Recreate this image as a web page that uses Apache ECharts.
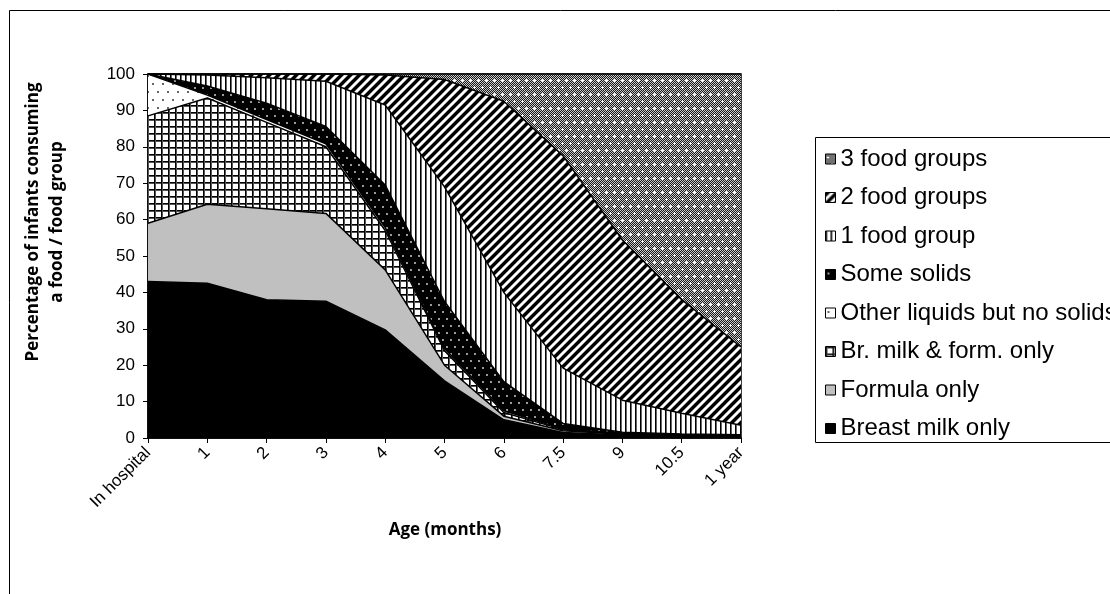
<!DOCTYPE html>
<html>
<head>
<meta charset="utf-8">
<script src="https://cdn.jsdelivr.net/npm/echarts@6/dist/echarts.min.js"></script>
<style>
  html, body { margin: 0; padding: 0; background: #fff; }
  #chart { width: 1110px; height: 594px; }
</style>
</head>
<body>
<div id="chart"></div>
<script>
// ages on the x axis
const ages = ['In hospital', '1', '2', '3', '4', '5', '6', '7.5', '9', '10.5', '1 year']

// % of infants per group (stacked, bottom to top)
const breastMilkOnly = [43, 42.5, 38, 37.6, 29.7, 15.7, 5, 1.5, 0.8, 0.5, 0.3]
const formulaOnly = [16, 21.7, 25, 24.1, 16.5, 4.3, 1, 0.5, 0.2, 0.2, 0.2]
const brMilkFormOnly = [29.5, 29.2, 23.7, 18.3, 10.8, 4, 1, 0.3, 0.2, 0.1, 0.1]
const otherLiquids = [11.5, 0.8, 0.8, 0.8, 0.8, 0.6, 0.5, 0.2, 0.1, 0.1, 0.1]
const someSolids = [0, 2.5, 4.5, 4.8, 11.7, 12.9, 8, 1.5, 0.3, 0.2, 0.2]
const oneFoodGroup = [0, 3, 7, 12.4, 22, 31.5, 24.5, 15.2, 8.8, 5.7, 2.6]
const twoFoodGroups = [0, 0.3, 1, 2, 8.2, 29.5, 52.5, 58.3, 44, 31.2, 21.5]
const threeFoodGroups = [0, 0, 0, 0, 0.3, 1.5, 7.5, 22.5, 45.6, 62, 75]

const yTicks = [0, 100, 10] // min, max, step

//------------------- fill patterns -------------------//
const makePattern = (w, h, draw) => {
  const c = document.createElement('canvas')
  c.width = w
  c.height = h
  const ctx = c.getContext('2d')
  draw(ctx, w, h)
  return {image: c, repeat: 'repeat'}
}

const px = (ctx, x, y, col, w = 1, h = 1) => {
  ctx.fillStyle = col
  ctx.fillRect(x, y, w, h)
}

const gridFill = makePattern(7, 7, (ctx) => {
  px(ctx, 0, 0, '#fff', 7, 7)
  px(ctx, 0, 0, '#000', 7, 1)
  px(ctx, 0, 1, '#555', 7, 1)
  px(ctx, 0, 0, '#000', 1, 7)
  px(ctx, 1, 0, '#555', 1, 7)
})

const sparseDots = makePattern(10, 16, (ctx) => {
  px(ctx, 0, 0, '#fff', 10, 16)
  px(ctx, 2, 3, '#666', 2, 2)
  px(ctx, 7, 11, '#666', 2, 2)
})

const blackDots = makePattern(8, 14, (ctx) => {
  px(ctx, 0, 0, '#000', 8, 14)
  px(ctx, 2, 3, '#999', 2, 2)
  px(ctx, 6, 10, '#999', 2, 2)
})

const vStripes = makePattern(5, 1, (ctx) => {
  px(ctx, 0, 0, '#fff', 5, 1)
  px(ctx, 0, 0, '#000')
  px(ctx, 1, 0, '#666')
})

const diagStripes = makePattern(9, 9, (ctx) => {
  for (let x = 0; x < 9; x++) {
    for (let y = 0; y < 9; y++) {
      const d = (x + y) % 9
      px(ctx, x, y, d < 4 ? '#000' : (d === 4 || d === 8) ? '#888' : '#fff')
    }
  }
})

const checkDots = makePattern(8, 14, (ctx) => {
  for (let x = 0; x < 8; x++) {
    for (let y = 0; y < 14; y++) {
      px(ctx, x, y, (x + y) % 2 ? '#1a1a1a' : '#c8c8c8')
    }
  }
  ;[[2, 3], [6, 10]].forEach(([x, y]) => {
    px(ctx, x - 1, y, '#fff', 3, 1)
    px(ctx, x, y - 1, '#fff', 1, 3)
  })
})

const groups = [
  {name: 'Breast milk only', data: breastMilkOnly, fill: '#000'},
  {name: 'Formula only', data: formulaOnly, fill: '#c0c0c0'},
  {name: 'Br. milk & form. only', data: brMilkFormOnly, fill: gridFill},
  {name: 'Other liquids but no solids', data: otherLiquids, fill: sparseDots},
  {name: 'Some solids', data: someSolids, fill: blackDots},
  {name: '1 food group', data: oneFoodGroup, fill: vStripes},
  {name: '2 food groups', data: twoFoodGroups, fill: diagStripes},
  {name: '3 food groups', data: threeFoodGroups, fill: checkDots},
]

const axisFont = {fontFamily: 'Liberation Sans, Arial, sans-serif', fontSize: 17, color: '#000'}

const chart = echarts.init(document.getElementById('chart'), null, {renderer: 'canvas'})

chart.setOption({
  animation: false,
  backgroundColor: '#fff',
  grid: {
    left: 148, top: 74, width: 593, height: 364,
    show: true, borderColor: '#000', borderWidth: 1.5, backgroundColor: 'transparent',
  },
  xAxis: {
    type: 'category',
    data: ages,
    boundaryGap: false,
    axisLine: {lineStyle: {color: '#000', width: 1.5}},
    axisTick: {show: true, length: 5, lineStyle: {color: '#000'}},
    axisLabel: {...axisFont, rotate: 45, interval: 0, margin: 12},
    splitLine: {show: false},
  },
  yAxis: {
    type: 'value',
    min: yTicks[0], max: yTicks[1], interval: yTicks[2],
    axisLine: {show: true, lineStyle: {color: '#000', width: 1.5}},
    axisTick: {show: true, length: 5, lineStyle: {color: '#000'}},
    axisLabel: {...axisFont, margin: 13},
    splitLine: {show: false},
  },
  legend: {
    orient: 'vertical',
    left: 820, top: 142,
    itemWidth: 10, itemHeight: 10, itemGap: 14.5,
    selectedMode: false,
    textStyle: {fontFamily: 'Liberation Sans, Arial, sans-serif', fontSize: 24, color: '#000'},
    data: groups.slice().reverse().map(g => ({
      name: g.name,
      icon: 'rect',
      itemStyle: {color: g.fill, borderColor: '#000', borderWidth: 1},
    })),
  },
  graphic: [
    {
      type: 'rect', silent: true, z: -10,
      shape: {x: 9.5, y: 10.5, width: 1200, height: 700},
      style: {fill: 'none', stroke: '#000', lineWidth: 1},
    },
    {
      type: 'rect', silent: true,
      shape: {x: 815.5, y: 137.5, width: 400, height: 305},
      style: {fill: 'none', stroke: '#000', lineWidth: 1},
    },
    {
      type: 'text', silent: true,
      x: 45, y: 222, rotation: Math.PI / 2,
      style: {
        text: 'Percentage of infants consuming\na food / food group',
        font: 'bold 17px "Open Sans", sans-serif',
        align: 'center', verticalAlign: 'middle', lineHeight: 24, fill: '#000',
      },
    },
    {
      type: 'text', silent: true,
      x: 445, y: 530,
      style: {
        text: 'Age (months)',
        font: 'bold 17px "Open Sans", sans-serif',
        align: 'center', verticalAlign: 'middle', fill: '#000',
      },
    },
  ],
  series: groups.map(g => ({
    name: g.name,
    type: 'line',
    stack: 'total',
    data: g.data,
    symbol: 'none',
    smooth: false,
    itemStyle: {color: g.fill},
    lineStyle: {color: '#000', width: 1.5},
    areaStyle: {color: g.fill, opacity: 1},
    emphasis: {disabled: true},
  })),
})
</script>
</body>
</html>
